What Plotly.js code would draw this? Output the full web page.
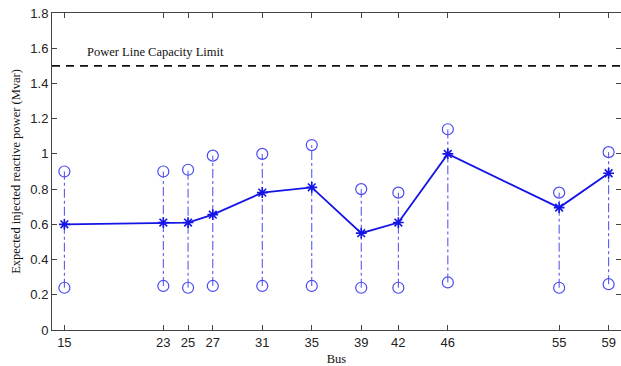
<!DOCTYPE html>
<html><head><meta charset="utf-8">
<script src="https://cdn.plot.ly/plotly-3.0.1.min.js"></script>
<style>html,body{margin:0;padding:0;background:#fff}</style></head>
<body>
<div id="chart" style="width:621px;height:366px"></div>
<script>
const buses = [15, 23, 25, 27, 31, 35, 39, 42, 46, 55, 59];
const expected = [0.60, 0.61, 0.61, 0.655, 0.78, 0.81, 0.55, 0.61, 1.00, 0.695, 0.89];
const upper = [0.90, 0.90, 0.91, 0.99, 1.00, 1.05, 0.80, 0.78, 1.14, 0.78, 1.01];
const lower = [0.24, 0.25, 0.24, 0.25, 0.25, 0.25, 0.24, 0.24, 0.27, 0.24, 0.26];
const capacityLimit = 1.5;
const capacityLabel = "Power Line Capacity Limit";
const xRange = [14, 60];
const yTicks = [0, 0.2, 0.4, 0.6, 0.8, 1, 1.2, 1.4, 1.6, 1.8];
const yTickLabels = ["0", "0.2", "0.4", "0.6", "0.8", "1", "1.2", "1.4", "1.6", "1.8"];
const xTickLabels = buses.map(String);

const vx = [], vy = [];
buses.forEach((b, i) => { vx.push(b, b, null); vy.push(lower[i], upper[i], null); });

const circleColor = "#4a4af0";
const lineColor = "#1414e6";

const traces = [
  { x: vx, y: vy, mode: "lines", line: {color: circleColor, width: 1, dash: "dashdot"}, hoverinfo: "skip", showlegend: false },
  { x: buses, y: upper, mode: "markers", marker: {symbol: "circle-open", size: 11, color: circleColor, line: {width: 1.2, color: circleColor}}, showlegend: false },
  { x: buses, y: lower, mode: "markers", marker: {symbol: "circle-open", size: 11, color: circleColor, line: {width: 1.2, color: circleColor}}, showlegend: false },
  { x: buses, y: expected, mode: "lines+markers", line: {color: lineColor, width: 1.8},
    marker: {symbol: "asterisk-open", size: 9, color: lineColor, line: {width: 1.6, color: lineColor}}, showlegend: false },
  { x: xRange, y: [capacityLimit, capacityLimit], mode: "lines", line: {color: "#111", width: 1.6, dash: "8px,6px"}, showlegend: false }
];

const axisCommon = {
  showline: true, linecolor: "#444", linewidth: 1, mirror: "ticks",
  ticks: "inside", ticklen: 5, tickcolor: "#444", showgrid: false, zeroline: false,
  tickfont: {family: "Liberation Sans, Arial, sans-serif", size: 13, color: "#222"}
};

const layout = {
  width: 621, height: 366,
  margin: {l: 52, r: 0, t: 13, b: 36},
  paper_bgcolor: "#fff", plot_bgcolor: "#fff",
  xaxis: Object.assign({}, axisCommon, {
    range: xRange, tickmode: "array", tickvals: buses, ticktext: xTickLabels,
    title: {text: "Bus", font: {family: "Liberation Serif, Times New Roman, serif", size: 12.5, color: "#111"}, standoff: 5}
  }),
  yaxis: Object.assign({}, axisCommon, {
    range: [0, 1.8], tickmode: "array", tickvals: yTicks, ticktext: yTickLabels,
    title: {text: "Expected injected reactive power (Mvar)", font: {family: "Liberation Serif, Times New Roman, serif", size: 12.5, color: "#111"}, standoff: 6}
  }),
  annotations: [{
    x: 16.7, y: 1.577, xref: "x", yref: "y", xanchor: "left", yanchor: "middle",
    text: capacityLabel, showarrow: false,
    font: {family: "Liberation Serif, Times New Roman, serif", size: 12.5, color: "#111"}
  }]
};

Plotly.newPlot("chart", traces, layout, {displayModeBar: false, staticPlot: true});
</script>
</body></html>
